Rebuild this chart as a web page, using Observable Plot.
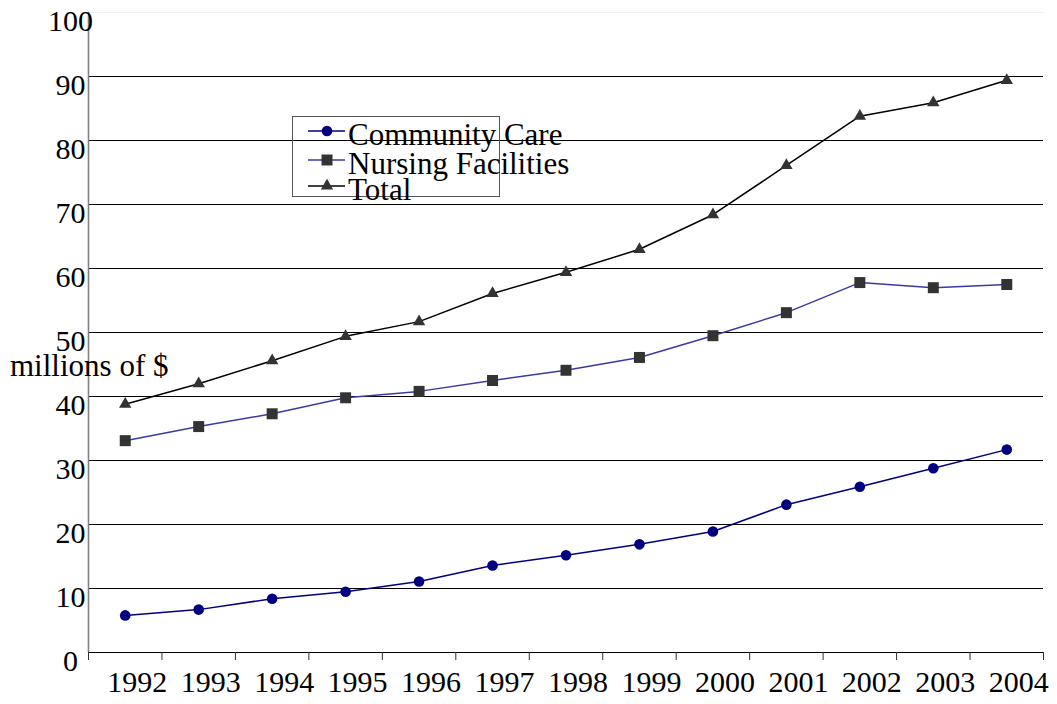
<!DOCTYPE html>
<html><head><meta charset="utf-8">
<script src="https://cdn.jsdelivr.net/npm/d3@7"></script>
<script src="https://cdn.jsdelivr.net/npm/@observablehq/plot@0.6"></script>
<style>
body{margin:0;background:#fff;}
#wrap{position:relative;width:1057px;height:704px;font-family:"Liberation Serif","Times New Roman",serif;}
#wrap svg.chart text{font-family:"Liberation Serif","Times New Roman",serif;font-size:30px;fill:black;}
#ylabel{position:absolute;left:10px;top:350px;font-size:31px;line-height:1;white-space:nowrap;}
#legendBox{position:absolute;left:292px;top:116px;width:206px;height:79px;border:1px solid #555;}
#legend{position:absolute;left:292px;top:116px;overflow:visible;}
</style></head><body><div id="wrap"></div>
<script>
const years = [1992,1993,1994,1995,1996,1997,1998,1999,2000,2001,2002,2003,2004];
const communityCare = [5.8,6.7,8.4,9.5,11.1,13.6,15.2,16.9,18.9,23.1,25.9,28.8,31.7];
const nursingFacilities = [33.1,35.3,37.3,39.8,40.8,42.5,44.1,46.1,49.5,53.1,57.8,57.0,57.5];
const total = [38.8,42.0,45.6,49.4,51.7,56.1,59.4,63.0,68.4,76.1,83.8,85.9,89.4];
const yTicks = [0,10,20,30,40,50,60,70,80,90,100];
const seriesNames = ["Community Care","Nursing Facilities","Total"];
const yLabel = "millions of $";

const toRows = (vals) => years.map((yr,i)=>({year:yr, value:vals[i]}));
const cc = toRows(communityCare), nf = toRows(nursingFacilities), tt = toRows(total);
const boundaries = [...years.map(y=>y-0.5), years[years.length-1]+0.5];

const chart = Plot.plot({
  className:"chart",
  width:1057, height:704,
  marginLeft:88, marginRight:14, marginTop:12, marginBottom:52,
  style:{fontFamily:"Liberation Serif", fontSize:"30px", background:"white", color:"black", overflow:"visible"},
  x:{domain:[years[0]-0.5, years[years.length-1]+0.5]},
  y:{domain:[0,100]},
  marks:[
    Plot.ruleY(yTicks.filter(d=>d>0 && d<100), {stroke:"black", strokeWidth:1.2}),
    Plot.ruleY([100], {stroke:"#f0f0f0"}),
    Plot.ruleY([0], {stroke:"black", strokeWidth:1.2}),
    Plot.ruleX([years[0]-0.5], {stroke:"#808080", strokeWidth:1.6}),
    Plot.axisX({ticks:boundaries, tickSize:8, tickFormat:()=>"", stroke:"#333", label:null}),
    Plot.axisX({ticks:years, tickSize:0, tickPadding:18, dx:12, tickFormat:d=>String(d), label:null}),
    Plot.axisY({ticks:yTicks, tickSize:0, tickPadding:18, textAnchor:"middle", dy:9, label:null}),
    Plot.line(tt, {x:"year", y:"value", stroke:"black", strokeWidth:1.5}),
    Plot.line(nf, {x:"year", y:"value", stroke:"#3a3aa8", strokeWidth:1.5}),
    Plot.line(cc, {x:"year", y:"value", stroke:"#000080", strokeWidth:1.5}),
    Plot.dot(tt, {x:"year", y:"value", symbol:"triangle", r:4.6, fill:"#333", stroke:"none"}),
    Plot.dot(nf, {x:"year", y:"value", symbol:"square", r:6.2, fill:"#333", stroke:"none"}),
    Plot.dot(cc, {x:"year", y:"value", symbol:"circle", r:5.3, fill:"#000080", stroke:"none"})
  ]
});
const wrap = document.getElementById("wrap");
wrap.appendChild(chart);

const yl = document.createElement("div");
yl.id = "ylabel"; yl.textContent = yLabel; wrap.appendChild(yl);

const box = document.createElement("div"); box.id = "legendBox"; wrap.appendChild(box);

const legendStyles = [
  {line:"#000080", fill:"#000080", sym:d3.symbolCircle, size:Math.PI*5.3*5.3},
  {line:"#3a3aa8", fill:"#333", sym:d3.symbolSquare, size:Math.PI*6.2*6.2},
  {line:"black", fill:"#333", sym:d3.symbolTriangle, size:Math.PI*4.6*4.6}
];
const rowY = [15, 44, 70];
const lg = d3.create("svg").attr("id","legend").attr("width",300).attr("height",100);
seriesNames.forEach((name,i)=>{
  const g = lg.append("g").attr("transform",`translate(0,${rowY[i]})`);
  g.append("line").attr("x1",16).attr("x2",53).attr("y1",0).attr("y2",0)
    .attr("stroke",legendStyles[i].line).attr("stroke-width",1.5);
  g.append("path").attr("d", d3.symbol(legendStyles[i].sym, legendStyles[i].size)())
    .attr("transform","translate(35,0)").attr("fill",legendStyles[i].fill);
  g.append("text").attr("x",56).attr("y",14).attr("font-size",31)
    .attr("font-family","'Liberation Serif','Times New Roman',serif").text(name);
});
wrap.appendChild(lg.node());
</script>
</body></html>
